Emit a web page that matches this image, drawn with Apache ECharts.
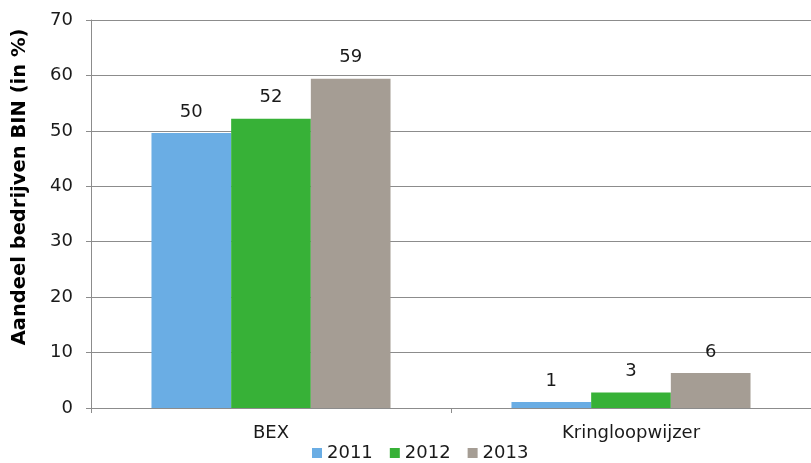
<!DOCTYPE html>
<html>
<head>
<meta charset="utf-8">
<script src="https://cdn.jsdelivr.net/npm/echarts@6/dist/echarts.min.js"></script>
<style>
  html, body { margin: 0; padding: 0; background: #fff; }
  #chart { width: 811px; height: 463px; }
</style>
</head>
<body>
<div id="chart"></div>
<script>
// Data
const categories = ['BEX', 'Kringloopwijzer']
const years      = ['2011', '2012', '2013']
const v2011      = [49.6, 1.1]
const v2012      = [52.2, 2.8]
const v2013      = [59.4, 6.3]
const colors     = ['#6aade4', '#37b137', '#a59d94']

const font = '"DejaVu Sans", Verdana, sans-serif'
const fs = 18
const gridColor = '#8c8c8c'

const chart = echarts.init(document.getElementById('chart'))

const mkSeries = (name, data, i) => ({
  name, type: 'bar', data,
  barGap: 0, barCategoryGap: '33.6%',
  itemStyle: { color: colors[i] },
  label: {
    show: true, position: 'top', distance: 12,
    formatter: p => Math.round(p.value),
    fontFamily: font, fontSize: fs, color: '#1a1a1a',
  },
})

chart.setOption({
  animation: false,
  grid: { left: 91, right: -6, top: 20, bottom: 55, containLabel: false },
  legend: {
    top: 439, left: 307,
    itemWidth: 10, itemHeight: 10, itemGap: 17,
    icon: 'rect',
    textStyle: { fontFamily: font, fontSize: fs, color: '#1a1a1a' },
    data: years,
  },
  xAxis: {
    type: 'category', data: categories,
    axisLine: { lineStyle: { color: gridColor, width: 1 } },
    axisTick: { show: true, length: 5, alignWithLabel: false, lineStyle: { color: gridColor } },
    axisLabel: { fontFamily: font, fontSize: fs, color: '#1a1a1a', margin: 16 },
  },
  yAxis: {
    type: 'value', min: 0, max: 70, interval: 10,
    name: 'Aandeel bedrijven BIN (in %)',
    nameLocation: 'middle', nameGap: 61, nameRotate: 90,
    nameTextStyle: { fontFamily: font, fontSize: 19.5, fontWeight: 'bold', color: '#000', padding: [0, 0, 0, 54] },
    axisLine: { show: true, lineStyle: { color: gridColor, width: 1 } },
    axisTick: { show: true, length: 5, lineStyle: { color: gridColor } },
    axisLabel: { fontFamily: font, fontSize: fs, color: '#1a1a1a', margin: 18 },
    splitLine: { lineStyle: { color: gridColor, width: 1 } },
  },
  series: [
    mkSeries(years[0], v2011, 0),
    mkSeries(years[1], v2012, 1),
    mkSeries(years[2], v2013, 2),
  ],
})
</script>
</body>
</html>
